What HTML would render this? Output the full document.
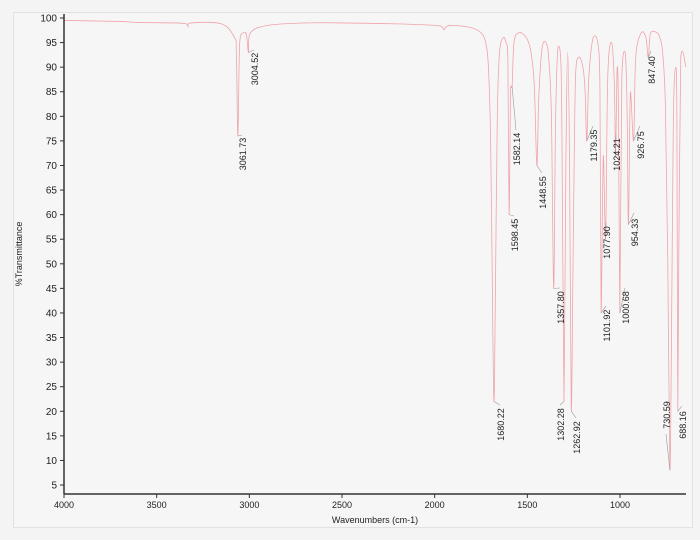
<!DOCTYPE html>
<html><head><meta charset="utf-8"><style>
html,body{margin:0;padding:0;background:#f4f4f4;}
svg{display:block;font-family:"Liberation Sans",sans-serif;}
</style></head><body>
<svg id="chart" width="700" height="540" viewBox="0 0 700 540">
<rect x="0" y="0" width="700" height="540" fill="#f4f4f4"/>
<rect x="13.5" y="12.5" width="679" height="515" fill="#f6f6f6" stroke="#e2e2e2"/>
<path id="spectrum" fill="none" stroke="#f0a3aa" stroke-width="0.8"/>
<g id="leaders"></g>
<g id="peaklabels"></g>
<line x1="64" y1="14" x2="64" y2="494" stroke="#333" stroke-width="1.5"/>
<line x1="64" y1="494" x2="686" y2="494" stroke="#333" stroke-width="1.5"/>
<g id="yticks"></g>
<g id="xticks"></g>
<text x="375" y="523" font-size="9" text-anchor="middle" fill="#222">Wavenumbers (cm-1)</text>
<text x="0" y="0" font-size="9" text-anchor="middle" fill="#222" transform="translate(22,254) rotate(-90)">%Transmittance</text>
</svg>
<script>
const specWave=[4000,3700,3600,3400,3340,3330,3315,3150,3080,3070,3061.73,3052,3030,3015,3004.52,2994,2900,2700,2500,2200,2000,1960,1950,1935,1900,1800,1750,1725,1710,1698,1690,1680.22,1672,1662,1650,1630,1615,1605,1598.45,1590,1582.14,1572,1545,1505,1480,1462,1448.55,1438,1420,1400,1385,1370,1357.8,1348,1335,1318,1310,1302.28,1292,1282,1272,1262.92,1252,1240,1222,1200,1188,1179.35,1168,1145,1120,1108,1101.92,1090,1077.9,1066,1045,1030,1024.21,1015,1008,1000.68,990,972,962,954.33,944,926.75,915,885,860,847.4,835,800,785,770,755,742,730.59,720,712,700,693,688.16,682,672,660,645];
const specT=[99.5,99.3,99.1,99,98.8,98.2,99,98.8,96,93,76,95,97,96.5,93,97,98.5,99,99,98.8,98.5,98.2,97.6,98.3,98.5,98,97,95,90,75,50,22,45,80,93,96,95,92,60,86,86,95,97,96,93,86,70,84,94,95,92,80,45,78,94,90,60,22,70,93,70,20,55,88,92,90,85,75,88,96,95,85,40,72,55,88,95,86,72,90,80,40,88,93,82,58,85,75,92,97,96,92,97,97,96,93,82,50,8,45,80,90,80,20,55,92,93,90];
const peakWave=[3061.73,3004.52,1680.22,1598.45,1582.14,1448.55,1357.80,1302.28,1262.92,1179.35,1101.92,1077.90,1024.21,1000.68,954.33,926.75,847.40,730.59,688.16];
const peakT=[76,93,22,60,86,70,45,22,20,75,40,55,72,40,58,75,92,8,20];
const yTickLabels=[100,95,90,85,80,75,70,65,60,55,50,45,40,35,30,25,20,15,10,5];
const xTickLabels=[4000,3500,3000,2500,2000,1500,1000];
// label placement (layout, not data)
const labLayout=[[243,137,171],[255,52,86],[501,407,442],[515,218,252],[517,132,166],[543,175,210],[561,290,325],[561,407,442],[577,420,455],[594,128,163],[607,308,343],[607,225,260],[617,137,172],[626,290,325],[635,215,250],[641,128,162],[652,53,87],[667,398,432],[683,408,442]];
const X=w=>64+(4000-w)*0.18533;
const Y=t=>18+(100-t)*4.916;
const NS='http://www.w3.org/2000/svg';
function mk(tag,attrs,parent){const e=document.createElementNS(NS,tag);for(const k in attrs)e.setAttribute(k,attrs[k]);parent.appendChild(e);return e;}
// smooth Catmull-Rom path through spectrum points
const pts=specWave.map((w,i)=>[X(w),Y(specT[i])]);
let d='M'+pts[0][0].toFixed(2)+' '+pts[0][1].toFixed(2);
for(let i=0;i<pts.length-1;i++){
  const p0=pts[Math.max(0,i-1)],p1=pts[i],p2=pts[i+1],p3=pts[Math.min(pts.length-1,i+2)];
  const k=1/6;
  let c1y=p1[1]+(p2[1]-p0[1])*k, c2y=p2[1]-(p3[1]-p1[1])*k;
  const lo=Math.min(p1[1],p2[1]),hi=Math.max(p1[1],p2[1]);
  c1y=Math.min(Math.max(c1y,lo-3),hi+3); c2y=Math.min(Math.max(c2y,lo-3),hi+3);
  const c1x=p1[0]+(p2[0]-p0[0])*k, c2x=p2[0]-(p3[0]-p1[0])*k;
  d+=`C${c1x.toFixed(2)} ${c1y.toFixed(2)} ${c2x.toFixed(2)} ${c2y.toFixed(2)} ${p2[0].toFixed(2)} ${p2[1].toFixed(2)}`;
}
document.getElementById('spectrum').setAttribute('d',d);
const yt=document.getElementById('yticks');
yTickLabels.forEach(v=>{
  const l=mk('line',{x1:60,x2:64,y1:Y(v),y2:Y(v),stroke:'#333'},yt);
  
  
  const t=mk('text',{x:57,y:Y(v)+3.5,'font-size':10,'text-anchor':'end',fill:'#222'},yt);
  t.textContent=v;
  
  
});
const xt=document.getElementById('xticks');
xTickLabels.forEach(v=>{
  const l=mk('line',{x1:X(v),x2:X(v),y1:494,y2:498,stroke:'#333'},xt);
  
  
  const t=mk('text',{x:X(v),y:508,'font-size':9,'text-anchor':'middle',fill:'#222'},xt);
  t.textContent=v;
  
  
});
const lg=document.getElementById('leaders'),pg=document.getElementById('peaklabels');
peakWave.forEach((w,i)=>{
  const [lx,ly0,ly1]=labLayout[i];
  const px=X(w),py=Y(peakT[i]);
  const ty=py>ly1?ly1+2:ly0-2;
  const l=mk('line',{x1:px,y1:py,x2:lx-1,y2:ty,stroke:'#9a9a9a','stroke-width':0.6},lg);
  
  
  const t=mk('text',{x:0,y:0,'font-size':9,'text-anchor':'middle',fill:'#222',transform:`translate(${lx+3},${(ly0+ly1)/2}) rotate(-90)`},pg);
  t.textContent=w.toFixed(2);
  
  
});
</script>
</body></html>
